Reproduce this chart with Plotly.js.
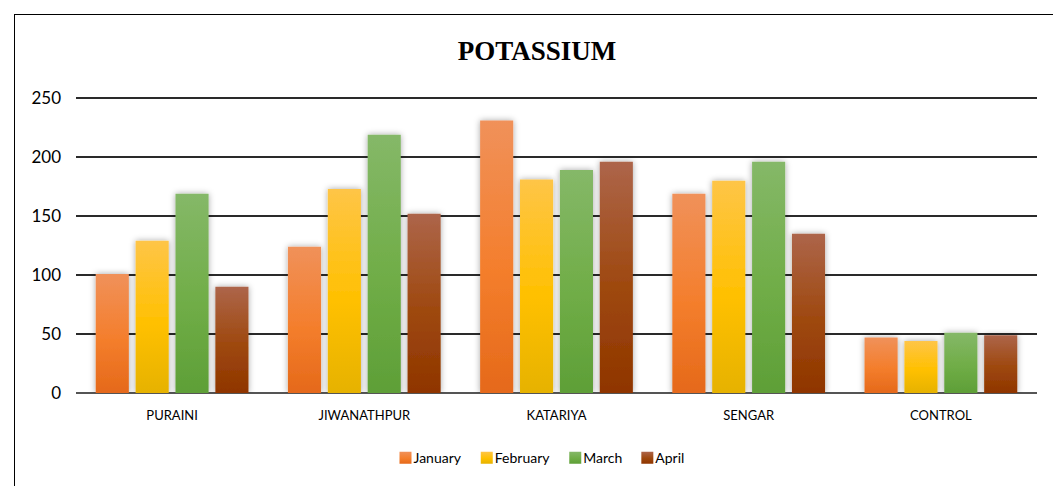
<!DOCTYPE html>
<html>
<head>
<meta charset="utf-8">
<script src="https://cdn.plot.ly/plotly-3.0.1.min.js"></script>
<style>
  html, body { margin: 0; padding: 0; background: #fff; }
  #chart { position: absolute; left: 0; top: 0; width: 1053px; height: 486px; }
  #frame { position: absolute; left: 14px; top: 14px; width: 1060px; height: 490px;
           border: 1px solid #000; pointer-events: none; }
</style>
</head>
<body>
<div id="chart"></div>
<div id="frame"></div>
<script>
const sites = ['PURAINI', 'JIWANATHPUR', 'KATARIYA', 'SENGAR', 'CONTROL'];
const january = [101, 124, 231, 169, 47];
const february = [129, 173, 181, 180, 44];
const march = [169, 219, 189, 196, 51];
const april = [90, 152, 196, 135, 49];

// base colour, top of gradient, bottom of gradient
const colores = {
    January: ['#F47E2C', '#F0915A', '#E5691A'],
    February: ['#FFC000', '#FEC547', '#E6B200'],
    March: ['#70AD47', '#85B868', '#5E9F37'],
    April: ['#9E480E', '#AD654A', '#8F3500']
};

function serie(nombre, valores) {
    return {
        x: sites,
        y: valores,
        name: nombre,
        type: 'bar',
        marker: {color: colores[nombre][0], line: {width: 0}},
        hoverinfo: 'none'
    };
}

const data = [
    serie('January', january),
    serie('February', february),
    serie('March', march),
    serie('April', april)
];

const layout = {
    width: 1053,
    height: 486,
    margin: {l: 76, r: 16, t: 97, b: 88},
    paper_bgcolor: 'rgba(0,0,0,0)',
    plot_bgcolor: 'rgba(0,0,0,0)',
    font: {family: 'Lato, "Open Sans", sans-serif', color: '#000'},
    title: {
        text: '<b>POTASSIUM</b>',
        font: {family: '"Liberation Serif", "Times New Roman", serif', size: 27, color: '#000'},
        x: 0.51, xanchor: 'center',
        y: 0.897, yanchor: 'middle'
    },
    barmode: 'group',
    bargap: 0.17,
    bargroupgap: 0.17,
    xaxis: {
        showgrid: false,
        showline: false,
        ticks: '',
        ticklabelstandoff: 13,
        tickfont: {size: 13},
        fixedrange: true
    },
    yaxis: {
        range: [0, 251],
        dtick: 50,
        tick0: 0,
        gridcolor: '#2a2a2a',
        gridwidth: 1.4,
        zeroline: true,
        zerolinecolor: '#555',
        zerolinewidth: 2,
        showline: false,
        ticks: '',
        ticklabelstandoff: 14,
        tickfont: {size: 17},
        fixedrange: true
    },
    showlegend: true,
    legend: {
        orientation: 'h',
        x: 0.5, xanchor: 'center',
        y: -0.22, yanchor: 'middle',
        font: {size: 14},
        traceorder: 'normal',
        itemwidth: 30
    }
};

Plotly.newPlot('chart', data, layout, {displayModeBar: false, staticPlot: true}).then(function (gd) {
    // degradados verticales y sombra como en el original
    const svg = gd.querySelector('.main-svg');
    let defs = svg.querySelector('defs');
    const ns = 'http://www.w3.org/2000/svg';
    const nombres = Object.keys(colores);
    nombres.forEach(function (nombre, i) {
        const grad = document.createElementNS(ns, 'linearGradient');
        grad.setAttribute('id', 'grad' + i);
        grad.setAttribute('x1', '0'); grad.setAttribute('y1', '0');
        grad.setAttribute('x2', '0'); grad.setAttribute('y2', '1');
        [[0, colores[nombre][1]], [0.55, colores[nombre][0]], [1, colores[nombre][2]]].forEach(function (s) {
            const stop = document.createElementNS(ns, 'stop');
            stop.setAttribute('offset', s[0]);
            stop.setAttribute('stop-color', s[1]);
            grad.appendChild(stop);
        });
        defs.appendChild(grad);
    });
    const filtro = document.createElementNS(ns, 'filter');
    filtro.setAttribute('id', 'sombra');
    filtro.setAttribute('x', '-30%'); filtro.setAttribute('y', '-10%');
    filtro.setAttribute('width', '160%'); filtro.setAttribute('height', '120%');
    filtro.innerHTML = '<feDropShadow dx="0" dy="0" stdDeviation="3" flood-color="#000" flood-opacity="0.35"/>';
    defs.appendChild(filtro);

    gd.querySelectorAll('.barlayer .trace.bars').forEach(function (traza, i) {
        traza.querySelectorAll('path').forEach(function (p) {
            p.style.fill = 'url(#grad' + i + ')';
            p.setAttribute('filter', 'url(#sombra)');
        });
    });
    // leyenda: texto pegado al cuadrado y entradas mas juntas, como en Excel
    gd.querySelectorAll('.legend .traces').forEach(function (item, i) {
        item.querySelectorAll('path').forEach(function (p) {
            p.style.fill = 'url(#grad' + i + ')';
        });
        const t = item.querySelector('text.legendtext');
        if (t) t.setAttribute('x', parseFloat(t.getAttribute('x')) - 12);
        const m = /translate\(([-\d.]+)[ ,]+([-\d.]+)\)/.exec(item.getAttribute('transform') || '');
        if (m) {
            item.setAttribute('transform',
                'translate(' + (parseFloat(m[1]) - 12 * i + 5) + ',' + m[2] + ')');
        }
    });
});
</script>
</body>
</html>
